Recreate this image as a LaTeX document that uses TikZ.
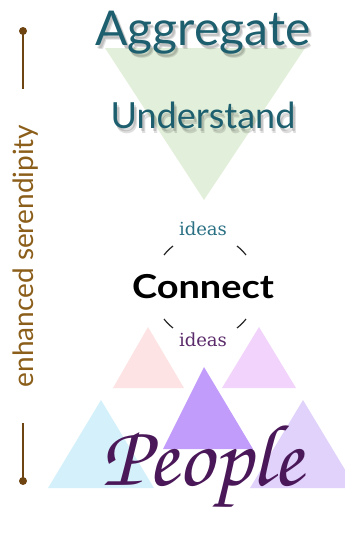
\documentclass[tikz,border=0pt]{standalone}
\usepackage[T1]{fontenc}
\usepackage{fontspec}
\usetikzlibrary{calc}
\newfontfamily\gill{Lato}
\newfontfamily\slab{DejaVu Serif}
\newcommand\chancery{\fontencoding{T1}\fontfamily{pzc}\fontseries{mb}\fontshape{it}\selectfont}
\newcommand\softcopies[1]{%
  \rlap{\hspace{2pt}\raisebox{-3pt}{#1}}%
  \rlap{\hspace{3pt}\raisebox{-5pt}{#1}}%
  \hphantom{#1}}
\definecolor{tealtxt}{HTML}{1D5F6E}
\definecolor{ideatop}{HTML}{2A7083}
\definecolor{ideabot}{HTML}{5A2A6A}
\definecolor{brownln}{HTML}{6E4410}
\definecolor{browntx}{HTML}{8B5E1A}
\definecolor{greentri}{HTML}{E2EFDA}
\definecolor{pinktri}{HTML}{FDE3E3}
\definecolor{lilactri}{HTML}{F1D3FB}
\definecolor{purptri}{HTML}{C19CFB}
\definecolor{bluetri}{HTML}{D4F1FB}
\definecolor{lavtri}{HTML}{E0D2FB}
\definecolor{peoplecol}{HTML}{4A1858}
\tikzset{
  shadowtxt/.style={anchor=base, inner sep=0pt, text=black, opacity=0.13},
  titletxt/.style={anchor=base, inner sep=0pt, text=tealtxt},
  ideatxt/.style={anchor=base, inner sep=0pt, font=\slab\fontsize{18}{18}\selectfont},
  tick/.style={line width=1.2pt, draw=black!85},
  stem/.style={line width=2pt, draw=brownln},
}
\begin{document}
\begin{tikzpicture}[x=1pt,y=-1pt]
\useasboundingbox (0,0) rectangle (345,554);
% inverted triangle
\fill[greentri] (105,48) -- (305,48) -- (204,200) -- cycle;
% soft shadows and titles
\node[shadowtxt] (aggsh) at (203,45) {\gill\fontsize{48}{48}\selectfont\softcopies{Aggregate}};
\node[shadowtxt] (undsh) at (203,128) {\gill\fontsize{36}{36}\selectfont\softcopies{Understand}};
\node[titletxt] (agg) at (203,45) {\gill\fontsize{48}{48}\selectfont Aggregate};
\node[titletxt] (und) at (203,128) {\gill\fontsize{36}{36}\selectfont Understand};
% connect
\node[ideatxt, text=ideatop] (ideasA) at (203,235) {ideas};
\node[anchor=base, inner sep=0pt, xscale=1.15] (conn) at (203,298) {\gill\bfseries\fontsize{33}{33}\selectfont Connect};
\coordinate (cc) at (205,287);
\foreach \a in {45,135,225,315}{
  \draw[tick] ($(cc)+(\a-7:52)$) arc[start angle=\a-7, end angle=\a+7, radius=52];
}
% lower triangles
\fill[pinktri] (113,388) -- (184,388) -- (148,327) -- cycle;
\fill[lilactri] (222,388) -- (296,388) -- (259,327) -- cycle;
\node[ideatxt, text=ideabot] (ideasB) at (203,346) {ideas};
\fill[purptri] (163,449) -- (253,449) -- (204,367) -- cycle;
\fill[bluetri] (48,488) -- (154,488) -- (101,400) -- cycle;
\fill[lavtri] (250,488) -- (356,488) -- (303,400) -- cycle;
\node[anchor=base west, inner sep=0pt, text=peoplecol] (people) at (101,485) {\chancery\fontsize{88}{88}\selectfont People};
% left axis
\coordinate (t1) at (23,31);
\coordinate (t2) at (23,89);
\coordinate (b1) at (23,423);
\coordinate (b2) at (23,481);
\draw[stem] (t1) -- (t2);
\draw[stem] (b1) -- (b2);
\fill[brownln] (t1) circle (4);
\fill[brownln] (b2) circle (4);
\node[rotate=90, anchor=base, inner sep=0pt, text=browntx] (ser) at (33,256) {\gill\fontsize{28}{28}\selectfont enhanced serendipity};
\end{tikzpicture}
\end{document}
